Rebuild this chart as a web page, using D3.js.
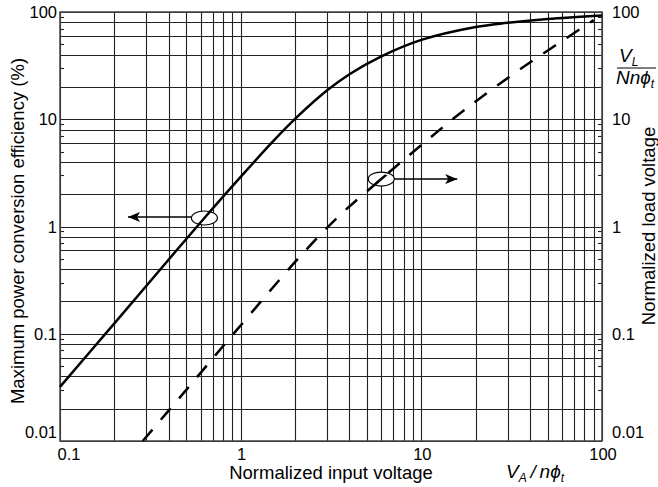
<!DOCTYPE html>
<html>
<head>
<meta charset="utf-8">
<script src="https://cdn.jsdelivr.net/npm/d3@7"></script>
<style>
  body { margin: 0; background: #fff; }
  svg { display: block; font-family: "Liberation Sans", Arial, Helvetica, sans-serif; }
</style>
</head>
<body>
<div id="chart"></div>
<script>
// efficiency curve (solid)
var effX = [0.1, 0.2, 0.442, 0.63, 1, 1.5, 2, 3, 4, 5.86, 10, 20, 30, 50, 100];
var effY = [0.032, 0.125, 0.6, 1.2, 2.9, 6.14, 10.07, 18.5, 26.3, 37.8, 54.9, 72.5, 79.2, 86.2, 93];

// normalized load voltage (dashed)
var loadX = [0.287, 0.5, 0.95, 2.12, 3.5, 6, 10, 17.3, 36, 90];
var loadY = [0.01, 0.03, 0.108, 0.52, 1.25, 2.77, 5.75, 12.2, 30, 84];

var xTickVals = [0.1, 1, 10, 100];
var xTickText = ["0.1", "1", "10", "100"];
var yTickVals = [0.01, 0.1, 1, 10, 100];
var yTickText = ["0.01", "0.1", "1", "10", "100"];

// annotation markers: [x, y, arrow end x]
var markEff = [0.63, 1.2, 0.238];
var markLoad = [6, 2.77, 15.8];

(function() {
var W = 658, H = 487;
var pL = 60, pR = 602, pT = 12, pB = 441;

var svg = d3.select("#chart").append("svg")
    .attr("width", W)
    .attr("height", H);

var x = d3.scaleLog().domain([0.1, 100]).range([pL, pR]);
var y = d3.scaleLog().domain([0.01, 100]).range([pB, pT]);

// grid values
var vLines = [], hLines = [], minorTicks = [];
[0.1, 1, 10].forEach(function(d) {
    for (var m = 1; m < 10; m++) {
        vLines.push(d * m);
    }
});
vLines.push(100);
[0.01, 0.1, 1, 10].forEach(function(d) {
    [1, 2, 4, 6, 8].forEach(function(m) { hLines.push(d * m); });
    [3, 5, 7, 9].forEach(function(m) { minorTicks.push(d * m); });
});
hLines.push(100);

var grid = svg.append("g").attr("stroke", "#222").attr("stroke-width", 1.1);

grid.selectAll(".vl")
    .data(vLines)
    .enter()
    .append("line")
        .attr("x1", d => Math.round(x(d)) + 0.5)
        .attr("x2", d => Math.round(x(d)) + 0.5)
        .attr("y1", pT)
        .attr("y2", pB);

grid.selectAll(".hl")
    .data(hLines)
    .enter()
    .append("line")
        .attr("x1", pL)
        .attr("x2", pR)
        .attr("y1", d => Math.round(y(d)) + 0.5)
        .attr("y2", d => Math.round(y(d)) + 0.5);

// small inward ticks on left and right
grid.selectAll(".tl")
    .data(minorTicks)
    .enter()
    .append("line")
        .attr("x1", pL)
        .attr("x2", pL + 4)
        .attr("y1", d => Math.round(y(d)) + 0.5)
        .attr("y2", d => Math.round(y(d)) + 0.5);
grid.selectAll(".tr")
    .data(minorTicks)
    .enter()
    .append("line")
        .attr("x1", pR - 4)
        .attr("x2", pR)
        .attr("y1", d => Math.round(y(d)) + 0.5)
        .attr("y2", d => Math.round(y(d)) + 0.5);

// frame
svg.append("rect")
    .attr("x", pL)
    .attr("y", pT)
    .attr("width", pR - pL)
    .attr("height", pB - pT)
    .attr("fill", "none")
    .attr("stroke", "#444")
    .attr("stroke-width", 1.5);

// ellipse backgrounds (hide grid)
function ellipse(mk, fill) {
    return svg.append("ellipse")
        .attr("cx", x(mk[0]))
        .attr("cy", y(mk[1]))
        .attr("rx", 13)
        .attr("ry", 7)
        .attr("fill", fill)
        .attr("stroke", fill == "none" ? "#000" : "none")
        .attr("stroke-width", 1.2);
}
ellipse(markEff, "#fff");
ellipse(markLoad, "#fff");

var line = d3.line()
    .x(d => x(d[0]))
    .y(d => y(d[1]))
    .curve(d3.curveCatmullRom.alpha(0.5));

svg.append("path")
    .datum(d3.zip(effX, effY))
    .attr("d", line)
    .attr("fill", "none")
    .attr("stroke", "#000")
    .attr("stroke-width", 2.5);

svg.append("path")
    .datum(d3.zip(loadX, loadY))
    .attr("d", line)
    .attr("fill", "none")
    .attr("stroke", "#000")
    .attr("stroke-width", 2.5)
    .attr("stroke-dasharray", "15,13");

// solid slash inside the dashed-line marker
svg.append("clipPath").attr("id", "clipLoad")
    .append("ellipse")
        .attr("cx", x(markLoad[0]))
        .attr("cy", y(markLoad[1]))
        .attr("rx", 9)
        .attr("ry", 5);
svg.append("path")
    .datum(d3.zip(loadX, loadY))
    .attr("d", line)
    .attr("fill", "none")
    .attr("stroke", "#000")
    .attr("stroke-width", 2.5)
    .attr("clip-path", "url(#clipLoad)");

ellipse(markEff, "none");
ellipse(markLoad, "none");

// arrows
var defs = svg.append("defs");
defs.append("marker")
    .attr("id", "arr")
    .attr("viewBox", "0 0 12 10")
    .attr("refX", 12)
    .attr("refY", 5)
    .attr("markerWidth", 12)
    .attr("markerHeight", 10)
    .attr("markerUnits", "userSpaceOnUse")
    .attr("orient", "auto")
    .append("path")
        .attr("d", "M0,0 L12,5 L0,10 L3,5 Z")
        .attr("fill", "#000");

svg.append("line")
    .attr("x1", x(markEff[0]) - 13)
    .attr("x2", x(markEff[2]))
    .attr("y1", y(markEff[1]) - 1)
    .attr("y2", y(markEff[1]) - 1)
    .attr("stroke", "#000")
    .attr("stroke-width", 1.5)
    .attr("marker-end", "url(#arr)");

svg.append("line")
    .attr("x1", x(markLoad[0]) + 13)
    .attr("x2", x(markLoad[2]))
    .attr("y1", y(markLoad[1]))
    .attr("y2", y(markLoad[1]))
    .attr("stroke", "#000")
    .attr("stroke-width", 1.5)
    .attr("marker-end", "url(#arr)");

// tick labels
var fs = 16.5, ft = 18.5;
svg.selectAll(".ylab")
    .data(yTickVals)
    .enter()
    .append("text")
        .attr("x", pL - 3)
        .attr("y", (d, i) => y(d) + (i == 0 ? -3 : 6))
        .attr("text-anchor", "end")
        .attr("font-size", fs)
        .text((d, i) => yTickText[i]);

svg.selectAll(".ylabr")
    .data(yTickVals)
    .enter()
    .append("text")
        .attr("x", pR + 10)
        .attr("y", (d, i) => y(d) + (i == 0 ? -3 : 6))
        .attr("text-anchor", "start")
        .attr("font-size", fs)
        .text((d, i) => yTickText[i]);

svg.selectAll(".xlab")
    .data(xTickVals)
    .enter()
    .append("text")
        .attr("x", (d, i) => x(d) + (i == 0 ? 9 : 1))
        .attr("y", 460)
        .attr("text-anchor", "middle")
        .attr("font-size", fs)
        .text((d, i) => xTickText[i]);

// axis titles
svg.append("text")
    .attr("x", 331)
    .attr("y", 479)
    .attr("text-anchor", "middle")
    .attr("font-size", ft)
    .text("Normalized input voltage");

var va = svg.append("text")
    .attr("x", 506)
    .attr("y", 478)
    .attr("font-size", 19)
    .attr("font-style", "italic");
va.append("tspan").text("V");
va.append("tspan").attr("font-size", 12).attr("dy", 4).text("A");
va.append("tspan").attr("dy", -4).text("\u2009/\u2009n\u03d5");
va.append("tspan").attr("font-size", 12).attr("dy", 4).text("t");

svg.append("text")
    .attr("transform", "translate(24,231) rotate(-90)")
    .attr("text-anchor", "middle")
    .attr("font-size", ft)
    .text("Maximum power conversion efficiency (%)");

svg.append("text")
    .attr("transform", "translate(655,226) rotate(-90)")
    .attr("text-anchor", "middle")
    .attr("font-size", ft)
    .text("Normalized load voltage");

// V_L / (N n phi_t) on the right
var vl = svg.append("text")
    .attr("x", 619)
    .attr("y", 62)
    .attr("font-size", 19)
    .attr("font-style", "italic");
vl.append("tspan").text("V");
vl.append("tspan").attr("font-size", 12).attr("dy", 4).text("L");

svg.append("line")
    .attr("x1", 617)
    .attr("x2", 656)
    .attr("y1", 68)
    .attr("y2", 68)
    .attr("stroke", "#000")
    .attr("stroke-width", 1.2);

var nn = svg.append("text")
    .attr("x", 616)
    .attr("y", 84)
    .attr("font-size", 19)
    .attr("font-style", "italic");
nn.append("tspan").text("Nn\u03d5");
nn.append("tspan").attr("font-size", 12).attr("dy", 4).text("t");
})();
</script>
</body>
</html>
